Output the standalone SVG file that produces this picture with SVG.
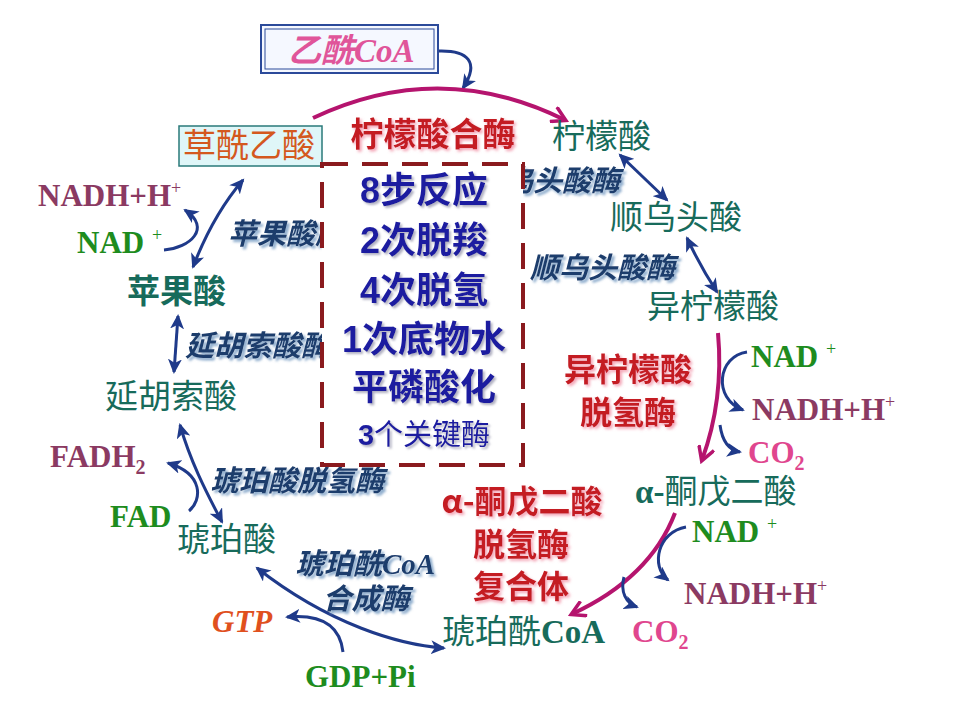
<svg xmlns="http://www.w3.org/2000/svg" width="960" height="720" viewBox="0 0 960 720">
<defs>
<style>
.teal{fill:#176b5b;font-family:'Noto Sans CJK SC',sans-serif;font-size:33px}
.tealb{fill:#176b5b;font-family:'Liberation Serif','Noto Sans CJK SC',serif;font-size:33px}
.enz{fill:#1e3c6c;font-family:'Liberation Serif','Noto Sans CJK SC',sans-serif;font-size:29px;font-weight:bold;font-style:italic;filter:url(#shBlue)}
.red{fill:#c41a22;font-family:'Noto Sans CJK SC',sans-serif;font-size:32px;font-weight:bold;filter:url(#shPink);text-anchor:middle}
.box{fill:#1a1aa0;font-family:'Liberation Sans','Noto Sans CJK SC',sans-serif;font-size:36px;font-weight:bold;filter:url(#shGray);text-anchor:middle}
.ser{font-family:'Liberation Serif',serif;font-size:31px;font-weight:bold}
.maroon{fill:#8b3a62}
.green{fill:#1e8c1e}
.pink{fill:#e0468e}
.sup{font-size:18px;font-weight:normal}
.nv{fill:none;stroke:#1f3a8a;stroke-width:3}
.mg{fill:none;stroke:#b5146e;stroke-width:4}
</style>
<filter id="shBlue" x="-10%" y="-30%" width="130%" height="170%"><feDropShadow dx="2.5" dy="2.5" stdDeviation="1.2" flood-color="#6f97c0" flood-opacity="0.8"/></filter>
<filter id="shPink" x="-10%" y="-30%" width="130%" height="170%"><feDropShadow dx="2" dy="2" stdDeviation="1.5" flood-color="#f08aa0" flood-opacity="0.8"/></filter>
<filter id="shGray" x="-10%" y="-30%" width="130%" height="170%"><feDropShadow dx="2" dy="2" stdDeviation="1.2" flood-color="#9090a8" flood-opacity="0.7"/></filter>
<marker id="nh" markerUnits="userSpaceOnUse" markerWidth="16" markerHeight="14" refX="13" refY="7" orient="auto-start-reverse"><path d="M0,0 L15,7 L0,14 L4,7 Z" fill="#1f3a8a"/></marker>
<marker id="mh" markerUnits="userSpaceOnUse" markerWidth="18" markerHeight="18" refX="14" refY="9" orient="auto"><path d="M1,1 L15,9 L1,17" fill="none" stroke="#b5146e" stroke-width="3.5"/></marker>
</defs>
<rect width="960" height="720" fill="#ffffff"/>

<g id="connectors">
<path class="nv" d="M438,51 C468,50 480,62 463,88" stroke-width="2" marker-end="url(#nh)"/>
<path class="mg" d="M313,118 Q440,58 565,120" marker-end="url(#mh)"/>
<path class="nv" d="M620,155 L667,200" marker-start="url(#nh)" marker-end="url(#nh)"/>
<path class="nv" d="M687,238 Q700,266 717,292" marker-start="url(#nh)" marker-end="url(#nh)"/>
<path class="mg" d="M718,333 Q724,400 702,460" marker-end="url(#mh)"/>
<path class="nv" d="M747,352 C718,356 712,398 743,410" marker-end="url(#nh)"/>
<path class="nv" d="M720,425 C722,440 728,450 740,452" marker-end="url(#nh)"/>
<path class="mg" d="M675,513 Q650,578 572,614" marker-end="url(#mh)"/>
<path class="nv" d="M686,527 C658,532 650,566 668,580" marker-end="url(#nh)"/>
<path class="nv" d="M624,577 C620,592 626,603 637,607" marker-end="url(#nh)"/>
<path class="nv" d="M444,648 C400,645 330,625 257,568" marker-start="url(#nh)" marker-end="url(#nh)"/>
<path class="nv" d="M343,652 C340,625 320,614 287,617" marker-end="url(#nh)"/>
<path class="nv" d="M222,522 C205,490 190,460 180,425" marker-start="url(#nh)" marker-end="url(#nh)"/>
<path class="nv" d="M189,511 C202,500 204,474 168,463" marker-end="url(#nh)"/>
<path class="nv" d="M178,316 L174,372" marker-start="url(#nh)" marker-end="url(#nh)"/>
<path class="nv" d="M193,267 Q213,215 243,180" marker-start="url(#nh)" marker-end="url(#nh)"/>
<path class="nv" d="M164,250 C190,248 212,228 185,210" marker-end="url(#nh)"/>
</g>

<g id="enzymes">
<text class="enz" x="504" y="191">乌头酸酶</text>
<text class="enz" x="530" y="278">顺乌头酸酶</text>
<text class="enz" x="228" y="244">苹果酸脱</text>
<text class="enz" x="185" y="356">延胡索酸酶</text>
<text class="enz" x="210" y="491">琥珀酸脱氢酶</text>
<text class="enz" x="295" y="574">琥珀酰CoA</text>
<text class="enz" x="366" y="609" text-anchor="middle">合成酶</text>
</g>

<g id="acetylcoa">
<rect x="261" y="25" width="177" height="48" fill="#f5f8ff" stroke="#2b4a9a" stroke-width="2"/>
<rect x="265" y="29" width="169" height="40" fill="none" stroke="#2b4a9a" stroke-width="1"/>
<text x="288" y="62" fill="#e0559a" font-family="'Liberation Serif','Noto Sans CJK SC',serif" font-size="33" font-style="italic" font-weight="bold">乙酰CoA</text>
</g>

<g id="oxaloacetate">
<rect x="179" y="126" width="143" height="40" fill="#dff6f8" stroke="#2a7a7a" stroke-width="1.5"/>
<text x="183" y="157" fill="#d4581e" font-family="'Noto Sans CJK SC',sans-serif" font-size="33">草酰乙酸</text>
</g>

<g id="summary">
<rect x="322" y="164" width="201" height="301" fill="#ffffff" stroke="#8a1a1e" stroke-width="4" stroke-dasharray="26 14"/>
<text class="box" x="424" y="203">8步反应</text>
<text class="box" x="424" y="253">2次脱羧</text>
<text class="box" x="424" y="303">4次脱氢</text>
<text class="box" x="424" y="352">1次底物水</text>
<text class="box" x="424" y="400">平磷酸化</text>
<text class="box" x="424" y="445" style="font-size:29px;font-weight:normal"><tspan style="font-weight:bold">3</tspan>个关键酶</text>
</g>

<g id="citrate-synthase"><text class="red" x="433" y="146" style="font-size:33px">柠檬酸合酶</text></g>
<g id="citrate"><text class="teal" x="552" y="148">柠檬酸</text></g>
<g id="cis-aconitate"><text class="teal" x="610" y="229">顺乌头酸</text></g>
<g id="isocitrate"><text class="teal" x="647" y="318">异柠檬酸</text></g>
<g id="idh"><text class="red" x="628" y="381">异柠檬酸</text><text class="red" x="628" y="424">脱氢酶</text></g>
<g id="nad1"><text class="ser green" x="751" y="367">NAD <tspan class="sup" dy="-12">+</tspan></text></g>
<g id="nadh1"><text class="ser maroon" x="752" y="420">NADH+H<tspan class="sup" dy="-12">+</tspan></text></g>
<g id="co2-1"><text class="ser pink" x="748" y="463" font-size="30">CO<tspan font-size="20" dy="7">2</tspan></text></g>
<g id="akg"><text class="tealb" x="635" y="503"><tspan font-weight="bold">α-</tspan>酮戊二酸</text></g>
<g id="akgdh"><text class="red" x="522" y="513">α-酮戊二酸</text><text class="red" x="521" y="556">脱氢酶</text><text class="red" x="521" y="598">复合体</text></g>
<g id="nad2"><text class="ser green" x="692" y="542">NAD <tspan class="sup" dy="-12">+</tspan></text></g>
<g id="nadh2"><text class="ser maroon" x="684" y="604">NADH+H<tspan class="sup" dy="-12">+</tspan></text></g>
<g id="co2-2"><text class="ser pink" x="632" y="642" font-size="30">CO<tspan font-size="20" dy="7">2</tspan></text></g>
<g id="succinylcoa"><text class="tealb" x="442" y="643">琥珀酰<tspan font-weight="bold">CoA</tspan></text></g>
<g id="gtp"><text class="ser" x="212" y="632" fill="#e0501e" font-style="italic">GTP</text></g>
<g id="gdp"><text class="ser green" x="305" y="687">GDP+Pi</text></g>
<g id="succinate"><text class="teal" x="177" y="551">琥珀酸</text></g>
<g id="fad"><text class="ser green" x="110" y="527">FAD</text></g>
<g id="fadh2"><text class="ser maroon" x="50" y="467">FADH<tspan font-size="20" dy="7">2</tspan></text></g>
<g id="fumarate"><text class="teal" x="105" y="408">延胡索酸</text></g>
<g id="malate"><text class="teal" x="127" y="303" font-weight="bold">苹果酸</text></g>
<g id="nad-left"><text class="ser green" x="77" y="253">NAD <tspan class="sup" dy="-12">+</tspan></text></g>
<g id="nadh-left"><text class="ser maroon" x="38" y="206">NADH+H<tspan class="sup" dy="-12">+</tspan></text></g>
</svg>
